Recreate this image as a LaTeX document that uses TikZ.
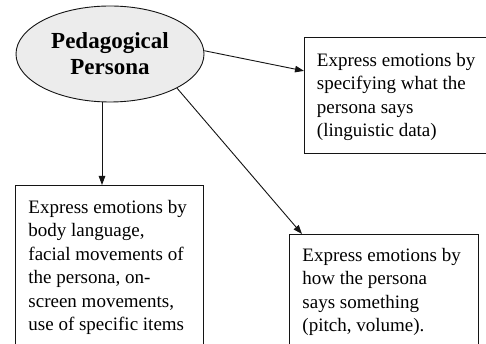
\documentclass[tikz,border=0pt]{standalone}
\usepackage{fontspec}
\setmainfont{LiberationSerif}[Extension=.ttf,UprightFont=*-Regular,BoldFont=*-Bold,ItalicFont=*-Italic,BoldItalicFont=*-BoldItalic]
\usetikzlibrary{arrows.meta,calc,shapes.geometric}
\definecolor{ellfill}{RGB}{236,236,236}
\definecolor{inkc}{RGB}{20,20,20}
\newcommand\bxtext[3]{\begin{minipage}[t][#2][t]{#1}\raggedright\fontsize{19}{23.5}\selectfont\strut #3\end{minipage}}
\begin{document}
\begin{tikzpicture}[x=1pt,y=-1pt,
  conn/.style={draw=inkc,line width=0.9pt},
  arr/.style={conn,-{Triangle[length=9pt,width=6.5pt]}},
  textbox/.style={draw=inkc,line width=0.9pt,rectangle,anchor=north west,inner xsep=12.5pt,fill=white},
  persona/.style={ellipse,draw=inkc,line width=0.9pt,fill=ellfill,minimum width=188pt,minimum height=96pt,inner sep=0pt,align=center,font=\fontsize{23}{26}\selectfont\bfseries}
]
\path[use as bounding box,clip] (0,0) rectangle (486,344);
\fill[white] (0,0) rectangle (486,344);

\node[persona] (p) at (110,54) {Pedagogical\\Persona};

\node[textbox,inner ysep=12.5pt] (a) at (304,37)
  {\bxtext{180pt}{91pt}{Express emotions by\\specifying what the\\persona says\\(linguistic data)}};

\node[textbox,inner ysep=11.5pt,inner xsep=13pt] (b) at (15,185)
  {\bxtext{162pt}{170pt}{Express emotions by\\body language,\\facial movements of\\the persona, on-\\screen movements,\\use of specific items}};

\node[textbox,inner ysep=10.5pt,inner xsep=13pt] (c) at (289,234)
  {\bxtext{163pt}{170pt}{Express emotions by\\how the persona\\says something\\(pitch, volume).}};

\coordinate (ta) at ($(a.north west)!0.29!(a.south west)$);
\coordinate (tb) at ($(b.north west)+(87,0)$);
\coordinate (tc) at ($(c.north west)+(13,0)$);

\draw[arr] (p.2) -- (ta);
\draw[arr] (tb |- p.south) -- (tb);
\draw[arr] (p.-27) -- (tc);
\end{tikzpicture}
\end{document}
